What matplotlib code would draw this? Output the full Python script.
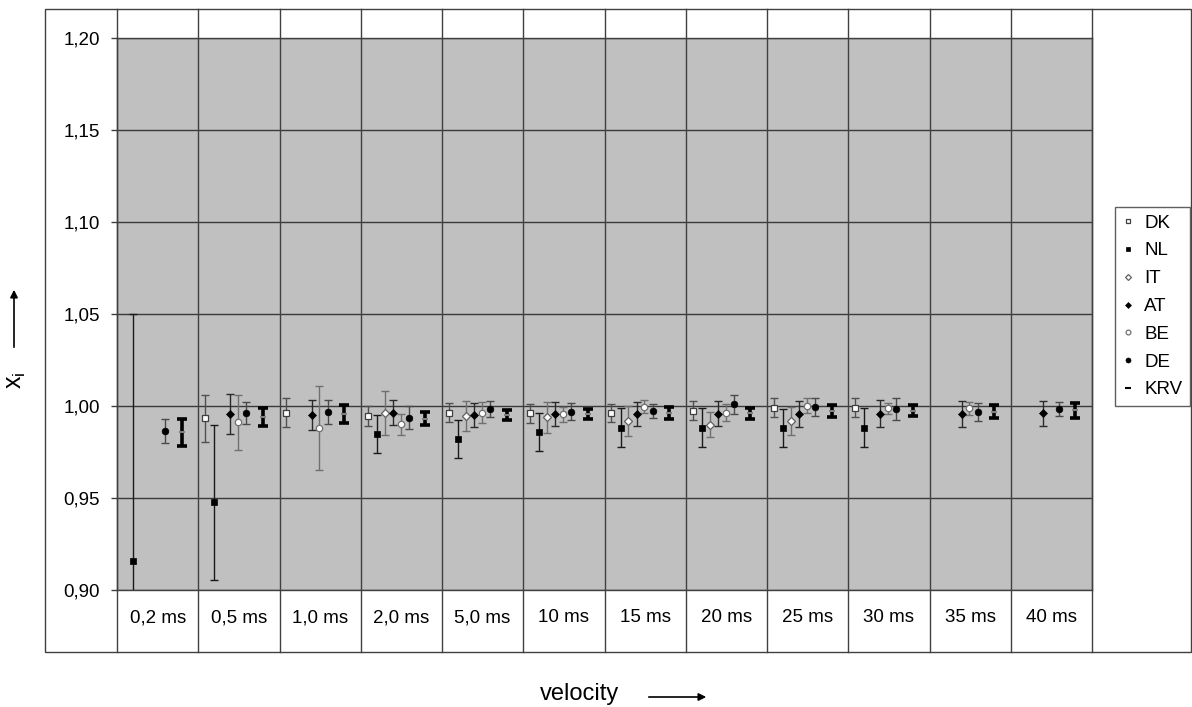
import numpy as np
import matplotlib
matplotlib.use("Agg")
import matplotlib.pyplot as plt
from matplotlib.lines import Line2D
from matplotlib.patches import Rectangle, FancyArrowPatch
from matplotlib.transforms import blended_transform_factory

plt.rcParams['font.family'] = ['Liberation Sans', 'DejaVu Sans']
plt.rcParams['mathtext.fontset'] = 'custom'
plt.rcParams['mathtext.rm'] = 'Liberation Sans'

nan = np.nan
categories = ['0,2 ms', '0,5 ms', '1,0 ms', '2,0 ms', '5,0 ms', '10 ms',
              '15 ms', '20 ms', '25 ms', '30 ms', '35 ms', '40 ms']
series_names = ['DK', 'NL', 'IT', 'AT', 'BE', 'DE', 'KRV']

DK = [nan, 0.9933, 0.9964, 0.9947, 0.9964, 0.9960, 0.9964, 0.9975, 0.9991, 0.9991, nan, nan]
DK_err = [nan, 0.0127, 0.0077, 0.0055, 0.0050, 0.0050, 0.0049, 0.0050, 0.0052, 0.0052, nan, nan]
NL = [0.9158, 0.9476, nan, 0.9846, 0.9819, 0.9857, 0.9882, 0.9882, 0.9879, 0.9882, nan, nan]
NL_err = [0.134, 0.042, nan, 0.0103, 0.0104, 0.0103, 0.0105, 0.0105, 0.0103, 0.0105, nan, nan]
IT = [nan, nan, nan, 0.9960, 0.9946, 0.9938, 0.9918, 0.9897, 0.9918, nan, nan, nan]
IT_err = [nan, nan, nan, 0.0120, 0.0080, 0.0084, 0.0080, 0.0068, 0.0075, nan, nan, nan]
AT = [nan, 0.9957, 0.9951, 0.9964, 0.9951, 0.9957, 0.9957, 0.9957, 0.9957, 0.9957, 0.9957, 0.9960]
AT_err = [nan, 0.0107, 0.0084, 0.0068, 0.0064, 0.0066, 0.0066, 0.0068, 0.0070, 0.0073, 0.0070, 0.0066]
BE = [nan, 0.9911, 0.9879, 0.9900, 0.9964, 0.9955, 0.9996, 0.9964, 1.0002, 0.9987, 0.9987, nan]
BE_err = [nan, 0.0148, 0.0228, 0.0059, 0.0058, 0.0042, 0.0035, 0.0045, 0.0041, 0.0032, 0.0036, nan]
DE = [0.9864, 0.9960, 0.9969, 0.9937, 0.9982, 0.9969, 0.9975, 1.0009, 0.9996, 0.9982, 0.9969, 0.9984]
DE_err = [0.0067, 0.0060, 0.0065, 0.0063, 0.0043, 0.0045, 0.0038, 0.0050, 0.0050, 0.0059, 0.0050, 0.0040]
KRV = [0.9857, 0.9942, 0.9957, 0.9930, 0.9951, 0.9955, 0.9962, 0.9960, 0.9973, 0.9975, 0.9969, 0.9976]
KRV_err = [0.0072, 0.0049, 0.0049, 0.0035, 0.0027, 0.0027, 0.0031, 0.0030, 0.0032, 0.0032, 0.0036, 0.0043]

yticks = [0.90, 0.95, 1.00, 1.05, 1.10, 1.15, 1.20]
ytick_labels = ['0,90', '0,95', '1,00', '1,05', '1,10', '1,15', '1,20']

W, H = 1192, 707
fig = plt.figure(figsize=(W / 100, H / 100), dpi=100)
fx = lambda px: px / W
fy = lambda py: 1 - py / H

ax = fig.add_axes([fx(117), fy(590), (1092 - 117) / W, (590 - 38) / H])
ax.set_facecolor('#c0c0c0')
ax.set_xlim(-0.5, len(categories) - 0.5)
ax.set_ylim(0.90, 1.20)
ax.set_yticks(yticks)
ax.set_yticklabels(ytick_labels)
ax.yaxis.grid(True, color='#3a3a3a', lw=1.0)
ax.set_axisbelow(True)
x = np.arange(len(categories))
ax.set_xticks(x)
ax.set_xticklabels(categories)
ax.tick_params(axis='x', length=0, pad=14, labelsize=13.5)
ax.tick_params(axis='y', direction='out', length=4.5, width=1, color='#404040',
               pad=8, labelsize=13.5)
for s in ax.spines.values():
    s.set_color('#404040')
    s.set_linewidth(1)

# column separators extending through frame
bt = blended_transform_factory(ax.transData, fig.transFigure)
for b in np.arange(-0.5, len(categories), 1.0):
    ax.plot([b, b], [fy(9), fy(652)], transform=bt, color='#404040', lw=1,
            clip_on=False, zorder=1)

# outer frame
fig.add_artist(Rectangle((fx(45), fy(652)), (1191 - 45) / W, (652 - 9) / H,
                         transform=fig.transFigure, fill=False,
                         edgecolor='#404040', lw=1))

offsets = {'DK': -0.414, 'NL': -0.303, 'IT': -0.205, 'AT': -0.106,
           'BE': -0.008, 'DE': 0.091, 'KRV': 0.294}
styles = {
    'DK': dict(marker='s', ms=4.2, mfc='white', mec='#404040', mew=0.9, ecolor='#505050'),
    'NL': dict(marker='s', ms=4.8, mfc='black', mec='black', mew=0.5, ecolor='#1a1a1a'),
    'IT': dict(marker='D', ms=4.0, mfc='white', mec='#606060', mew=0.9, ecolor='#707070'),
    'AT': dict(marker='D', ms=4.0, mfc='black', mec='black', mew=0.5, ecolor='#2a2a2a'),
    'BE': dict(marker='o', ms=4.6, mfc='white', mec='#707070', mew=0.9, ecolor='#707070'),
    'DE': dict(marker='o', ms=4.8, mfc='black', mec='black', mew=0.5, ecolor='#4a4a4a'),
}
data = {'DK': (DK, DK_err), 'NL': (NL, NL_err), 'IT': (IT, IT_err),
        'AT': (AT, AT_err), 'BE': (BE, BE_err), 'DE': (DE, DE_err)}
for name in ['DK', 'NL', 'IT', 'AT', 'BE', 'DE']:
    v, e = data[name]
    st = styles[name]
    ax.errorbar(x + offsets[name], v, yerr=e, fmt='none', ecolor=st['ecolor'],
                elinewidth=1, capsize=2.8, capthick=1, zorder=3)
    ax.plot(x + offsets[name], v, linestyle='none', marker=st['marker'], ms=st['ms'],
            mfc=st['mfc'], mec=st['mec'], mew=st['mew'], zorder=4)

ax.errorbar(x + offsets['KRV'], KRV, yerr=KRV_err, fmt='none', ecolor='black',
            elinewidth=2.6, capsize=3.3, capthick=2.6, zorder=3)
ax.plot(x + offsets['KRV'], KRV, linestyle='none', marker='_', ms=5, mew=1.5,
        color='#808080', zorder=4)

# legend
handles = []
for name in ['DK', 'NL', 'IT', 'AT', 'BE', 'DE']:
    st = styles[name]
    handles.append(Line2D([], [], linestyle='none', marker=st['marker'],
                          ms=st['ms'] * 0.75, mfc=st['mfc'], mec=st['mec'], mew=st['mew']))
handles.append(Line2D([], [], linestyle='none', marker='_', ms=4.5, mew=1.5, color='black'))
leg = fig.legend(handles, series_names, loc='upper left',
                 bbox_to_anchor=(fx(1115), fy(207)), bbox_transform=fig.transFigure,
                 frameon=True, fancybox=False, framealpha=1, edgecolor='#606060',
                 fontsize=13.5, handlelength=0.6, handletextpad=0.55,
                 labelspacing=0.57, borderpad=0.4, borderaxespad=0)
leg.get_frame().set_linewidth(1)

# axis titles with arrows
fig.text(fx(16), fy(380), r'$\mathrm{x_i}$', rotation=90, ha='center', va='center',
         fontsize=18)
fig.add_artist(FancyArrowPatch((fx(14), fy(350)), (fx(14), fy(287)),
                               transform=fig.transFigure, arrowstyle='-|>',
                               mutation_scale=11, lw=1.2, color='black'))
fig.text(fx(580), fy(694), 'velocity', ha='center', va='center', fontsize=17)
fig.add_artist(FancyArrowPatch((fx(646), fy(697)), (fx(709), fy(697)),
                               transform=fig.transFigure, arrowstyle='-|>',
                               mutation_scale=11, lw=1.2, color='black'))

fig.savefig('out.png', dpi=100)
